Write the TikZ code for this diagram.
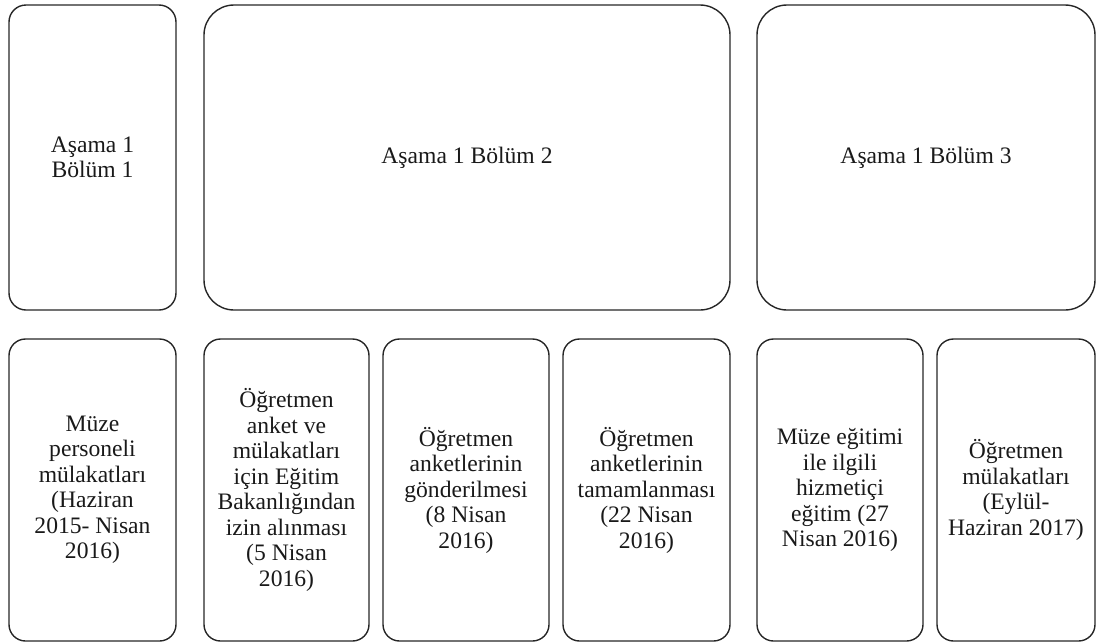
\documentclass[tikz,border=0pt]{standalone}
\usepackage{fontspec}
\setmainfont{Liberation Serif}
\begin{document}
\begin{tikzpicture}[x=1pt,y=-1pt,
  box/.style={draw=black!85, line width=1.4pt, rectangle, align=center, inner sep=2pt, outer sep=0pt,
    font=\fontsize{23.6}{25.5}\selectfont, text=black!90},
  small/.style={box, rounded corners=16.5pt},
  big/.style={box, rounded corners=30pt}]
\useasboundingbox (0,0) rectangle (1096,643);
% top row
\node[box, rounded corners=17pt, minimum width=167pt, minimum height=305pt] (t1) at (92.5,157.5) {Aşama 1\\Bölüm 1};
\node[big, minimum width=526pt, minimum height=305pt] (t2) at (467,157.5) {Aşama 1 Bölüm 2};
\node[big, minimum width=338pt, minimum height=305pt] (t3) at (926,157.5) {Aşama 1 Bölüm 3};
% bottom row
\node[small, minimum width=167pt, minimum height=302pt] (b1) at (92.5,490) {Müze\\personeli\\mülakatları\\(Haziran\\2015- Nisan\\2016)};
\node[small, minimum width=165pt, minimum height=302pt] (b2) at (286.5,490) {Öğretmen\\anket ve\\mülakatları\\için Eğitim\\Bakanlığından\\izin alınması\\(5 Nisan\\2016)};
\node[small, minimum width=166pt, minimum height=302pt] (b3) at (466,490) {Öğretmen\\anketlerinin\\gönderilmesi\\(8 Nisan\\2016)};
\node[small, minimum width=167pt, minimum height=302pt] (b4) at (646.5,490) {Öğretmen\\anketlerinin\\tamamlanması\\(22 Nisan\\2016)};
\node[small, minimum width=166pt, minimum height=302pt] (b5) at (840,490) {Müze eğitimi\\ile ilgili\\hizmetiçi\\eğitim (27\\Nisan 2016)};
\node[small, minimum width=158pt, minimum height=302pt] (b6) at (1016,490) {Öğretmen\\mülakatları\\(Eylül-\\Haziran 2017)};
\end{tikzpicture}
\end{document}
